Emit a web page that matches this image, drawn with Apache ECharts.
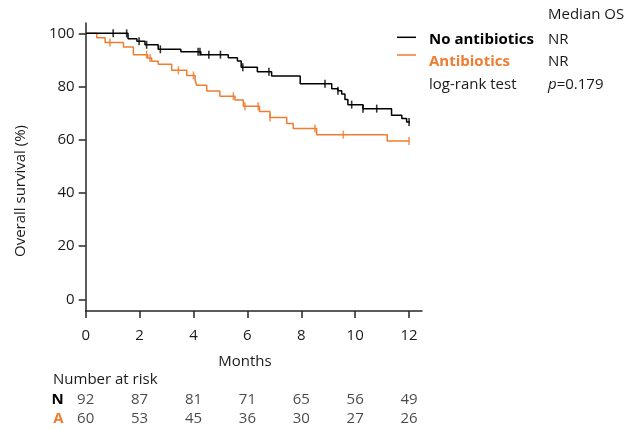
<!DOCTYPE html>
<html>
<head>
<meta charset="utf-8">
<script src="https://cdn.jsdelivr.net/npm/echarts@6/dist/echarts.min.js"></script>
<style>html,body{margin:0;padding:0;background:#fff}#c{width:636px;height:430px}</style>
</head>
<body>
<div id="c"></div>
<script>
// ---- data ----
const xTicks = [0, 2, 4, 6, 8, 10, 12];
const yTicks = [0, 20, 40, 60, 80, 100];

const noAbxTimes = [0, 1.57, 1.90, 2.20, 2.69, 3.53, 4.27, 5.29, 5.63, 5.77, 6.37, 6.90, 7.96, 9.13, 9.36, 9.50, 9.62, 9.73, 10.29, 11.35, 11.73, 11.91, 12.03];
const noAbxSurv  = [100, 98.0, 97.0, 95.7, 94.0, 93.1, 92.0, 90.8, 89.6, 87.3, 85.6, 84.0, 81.1, 79.2, 78.4, 77.2, 75.1, 73.2, 71.7, 69.2, 68.0, 66.7, 66.7];
const noAbxCensorTimes = [1.02, 1.52, 1.98, 2.26, 2.77, 4.17, 4.24, 4.57, 5.00, 5.83, 6.80, 8.88, 9.36, 9.87, 10.29, 10.80, 12.00];
const noAbxCensorSurv  = [100, 100, 97.0, 95.7, 94.0, 93.1, 93.1, 92.0, 92.0, 87.3, 85.6, 81.1, 78.4, 73.2, 71.7, 71.7, 66.7];

const abxTimes = [0, 0.41, 0.72, 1.40, 1.77, 2.30, 2.45, 2.69, 3.19, 3.75, 4.06, 4.12, 4.49, 4.98, 5.54, 5.85, 6.45, 6.84, 7.46, 7.70, 8.57, 11.19, 12.00];
const abxSurv  = [100, 98.4, 96.6, 94.9, 92.0, 90.7, 89.5, 88.4, 86.1, 84.2, 82.4, 80.5, 78.3, 76.4, 74.9, 72.6, 70.6, 68.4, 66.1, 64.2, 61.9, 59.5, 59.5];
const abxCensorTimes = [0.90, 2.26, 2.39, 3.44, 4.00, 5.48, 5.91, 6.40, 6.84, 8.51, 9.56, 12.00];
const abxCensorSurv  = [96.6, 92.0, 90.7, 86.1, 84.2, 76.4, 72.6, 72.6, 68.4, 64.2, 61.9, 59.5];

const riskTimes = [0, 2, 4, 6, 8, 10, 12];
const riskNoAbx = [92, 87, 81, 71, 65, 56, 49];
const riskAbx   = [60, 53, 45, 36, 30, 27, 26];

const groupNames = ['No antibiotics', 'Antibiotics'];
const medianOS = ['NR', 'NR'];
const pValue = '0.179';

// ---- chart ----
const BLACK = '#000000';
const ORANGE = '#ED7D31';
const TXT = '#1a1a1a';
const FONT = 'Open Sans';
const zip = (a, b) => a.map((v, i) => [v, b[i]]);

const chart = echarts.init(document.getElementById('c'), null, {renderer: 'canvas'});
const axisColor = '#262626';

const option = {
  animation: false,
  textStyle: {fontFamily: FONT},
  grid: [
    {left: 85.7, right: 214, top: 23, bottom: 119},
    {left: 85.7, right: 214, top: 389.8, height: 38}
  ],
  xAxis: [
    {
      type: 'value', gridIndex: 0, min: 0, max: 12.48,
      axisLine: {show: true, onZero: false, lineStyle: {color: axisColor, width: 1.5}},
      axisTick: {show: true, length: 7, customValues: xTicks, lineStyle: {color: axisColor, width: 1.5}},
      axisLabel: {customValues: xTicks, color: TXT, fontSize: 15, margin: 17, fontFamily: FONT},
      splitLine: {show: false}
    },
    {
      type: 'value', gridIndex: 1, min: 0, max: 12.48, show: false
    }
  ],
  yAxis: [
    {
      type: 'value', gridIndex: 0, min: -4.4, max: 103.9,
      axisLine: {show: true, lineStyle: {color: axisColor, width: 1.5}},
      axisTick: {show: true, length: 7, customValues: yTicks, lineStyle: {color: axisColor, width: 1.5}},
      axisLabel: {customValues: yTicks, color: TXT, fontSize: 15, margin: 11, fontFamily: FONT},
      splitLine: {show: false}
    },
    {
      type: 'category', gridIndex: 1, inverse: true,
      data: [
        {value: 'N', textStyle: {color: BLACK}},
        {value: 'A', textStyle: {color: ORANGE}}
      ],
      axisLine: {show: false}, axisTick: {show: false},
      axisLabel: {interval: 0, hideOverlap: false, fontWeight: 'bold', fontSize: 15, margin: 22, align: 'right', fontFamily: FONT}
    }
  ],
  series: [
    {
      name: groupNames[0], type: 'line', step: 'end', showSymbol: false, z: 3,
      xAxisIndex: 0, yAxisIndex: 0,
      data: zip(noAbxTimes, noAbxSurv),
      lineStyle: {color: BLACK, width: 1.5}, itemStyle: {color: BLACK}
    },
    {
      name: groupNames[1], type: 'line', step: 'end', showSymbol: false, z: 2,
      xAxisIndex: 0, yAxisIndex: 0,
      data: zip(abxTimes, abxSurv),
      lineStyle: {color: ORANGE, width: 1.5}, itemStyle: {color: ORANGE}
    },
    {
      name: groupNames[0] + ' censored', type: 'scatter', symbol: 'rect', symbolSize: [1.6, 8], z: 4,
      xAxisIndex: 0, yAxisIndex: 0,
      data: zip(noAbxCensorTimes, noAbxCensorSurv), itemStyle: {color: BLACK}
    },
    {
      name: groupNames[1] + ' censored', type: 'scatter', symbol: 'rect', symbolSize: [1.6, 8], z: 3,
      xAxisIndex: 0, yAxisIndex: 0,
      data: zip(abxCensorTimes, abxCensorSurv), itemStyle: {color: ORANGE}
    },
    {
      name: 'risk', type: 'scatter', xAxisIndex: 1, yAxisIndex: 1, symbolSize: 1,
      itemStyle: {color: 'rgba(0,0,0,0)'},
      data: riskTimes.map((t, i) => [t, 'N', riskNoAbx[i]]).concat(riskTimes.map((t, i) => [t, 'A', riskAbx[i]])),
      label: {
        show: true, position: 'inside', offset: [2, 0], color: TXT, fontSize: 15, fontFamily: FONT,
        formatter: p => String(p.value[2])
      },
      labelLayout: {hideOverlap: false},
      silent: true
    }
  ],
  graphic: [
    {type: 'text', x: 21, y: 191, rotation: Math.PI / 2,
     style: {text: 'Overall survival (%)', fill: TXT, font: '15px "Open Sans"', textAlign: 'center', textVerticalAlign: 'middle'}},
    {type: 'text', x: 245, y: 361.7,
     style: {text: 'Months', fill: TXT, font: '15px "Open Sans"', textAlign: 'center', textVerticalAlign: 'middle'}},
    {type: 'text', x: 53, y: 380,
     style: {text: 'Number at risk', fill: TXT, font: '15px "Open Sans"', textAlign: 'left', textVerticalAlign: 'middle'}},
    // legend block
    {type: 'text', x: 548, y: 15,
     style: {text: 'Median OS', fill: TXT, font: '15px "Open Sans"', textAlign: 'left', textVerticalAlign: 'middle'}},
    {type: 'line', shape: {x1: 397, y1: 37.3, x2: 416, y2: 37.3}, style: {stroke: BLACK, lineWidth: 1.5}},
    {type: 'text', x: 429, y: 40,
     style: {text: groupNames[0], fill: BLACK, font: 'bold 15px "Open Sans"', textAlign: 'left', textVerticalAlign: 'middle'}},
    {type: 'text', x: 548, y: 40,
     style: {text: medianOS[0], fill: TXT, font: '15px "Open Sans"', textAlign: 'left', textVerticalAlign: 'middle'}},
    {type: 'line', shape: {x1: 397, y1: 55, x2: 416, y2: 55}, style: {stroke: ORANGE, lineWidth: 1.5}},
    {type: 'text', x: 429, y: 61.7,
     style: {text: groupNames[1], fill: ORANGE, font: 'bold 15px "Open Sans"', textAlign: 'left', textVerticalAlign: 'middle'}},
    {type: 'text', x: 548, y: 61.7,
     style: {text: medianOS[1], fill: TXT, font: '15px "Open Sans"', textAlign: 'left', textVerticalAlign: 'middle'}},
    {type: 'text', x: 429, y: 85,
     style: {text: 'log-rank test', fill: TXT, font: '15px "Open Sans"', textAlign: 'left', textVerticalAlign: 'middle'}},
    {type: 'text', x: 548, y: 85,
     style: {text: '{i|p}=' + pValue, fill: TXT, font: '15px "Open Sans"', textAlign: 'left', textVerticalAlign: 'middle',
       rich: {i: {fontStyle: 'italic', fontFamily: FONT, fontSize: 15, fill: TXT}}}}
  ]
};
chart.setOption(option);
</script>
</body>
</html>
